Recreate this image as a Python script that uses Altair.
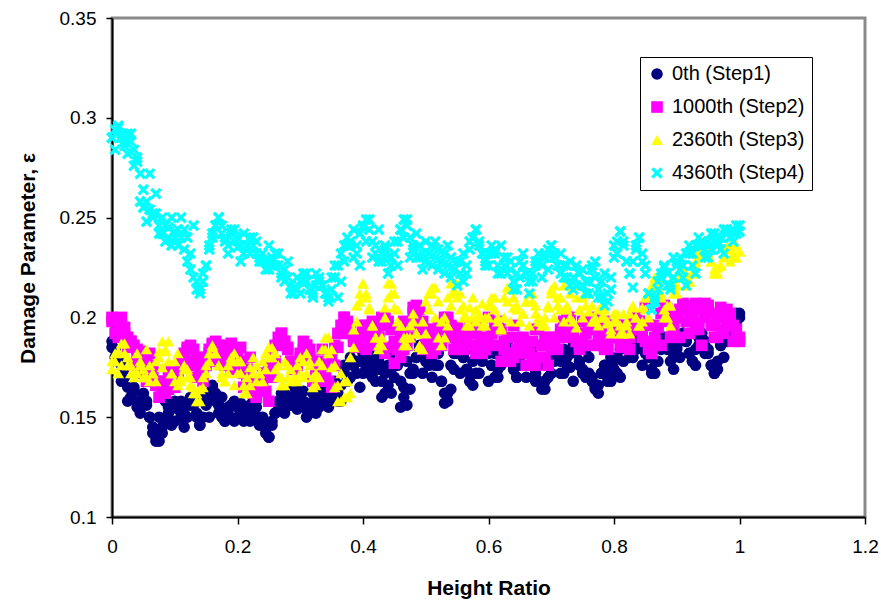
import altair as alt
import pandas as pd

# ---- x positions of the three reading sets ----
height_ratio = [
    0.000, 0.005, 0.010, 0.015, 0.020, 0.025, 0.030, 0.035, 0.040, 0.045,
    0.050, 0.055, 0.060, 0.065, 0.070, 0.075, 0.080, 0.085, 0.090, 0.095,
    0.100, 0.105, 0.110, 0.115, 0.120, 0.125, 0.130, 0.135, 0.140, 0.145,
    0.150, 0.155, 0.160, 0.165, 0.170, 0.175, 0.180, 0.185, 0.190, 0.195,
    0.200, 0.205, 0.210, 0.215, 0.220, 0.225, 0.230, 0.235, 0.240, 0.245,
    0.250, 0.255, 0.260, 0.265, 0.270, 0.275, 0.280, 0.285, 0.290, 0.295,
    0.300, 0.305, 0.310, 0.315, 0.320, 0.325, 0.330, 0.335, 0.340, 0.345,
    0.350, 0.355, 0.360, 0.365, 0.370, 0.375, 0.380, 0.385, 0.390, 0.395,
    0.400, 0.405, 0.410, 0.415, 0.420, 0.425, 0.430, 0.435, 0.440, 0.445,
    0.450, 0.455, 0.460, 0.465, 0.470, 0.475, 0.480, 0.485, 0.490, 0.495,
    0.500, 0.505, 0.510, 0.515, 0.520, 0.525, 0.530, 0.535, 0.540, 0.545,
    0.550, 0.555, 0.560, 0.565, 0.570, 0.575, 0.580, 0.585, 0.590, 0.595,
    0.600, 0.605, 0.610, 0.615, 0.620, 0.625, 0.630, 0.635, 0.640, 0.645,
    0.650, 0.655, 0.660, 0.665, 0.670, 0.675, 0.680, 0.685, 0.690, 0.695,
    0.700, 0.705, 0.710, 0.715, 0.720, 0.725, 0.730, 0.735, 0.740, 0.745,
    0.750, 0.755, 0.760, 0.765, 0.770, 0.775, 0.780, 0.785, 0.790, 0.795,
    0.800, 0.805, 0.810, 0.815, 0.820, 0.825, 0.830, 0.835, 0.840, 0.845,
    0.850, 0.855, 0.860, 0.865, 0.870, 0.875, 0.880, 0.885, 0.890, 0.895,
    0.900, 0.905, 0.910, 0.915, 0.920, 0.925, 0.930, 0.935, 0.940, 0.945,
    0.950, 0.955, 0.960, 0.965, 0.970, 0.975, 0.980, 0.985, 0.990, 0.995,
    1.000,
]

height_ratio_grid = [
    0.00, 0.01, 0.02, 0.03, 0.04, 0.05, 0.06, 0.07, 0.08, 0.09,
    0.10, 0.11, 0.12, 0.13, 0.14, 0.15, 0.16, 0.17, 0.18, 0.19,
    0.20, 0.21, 0.22, 0.23, 0.24, 0.25, 0.26, 0.27, 0.28, 0.29,
    0.30, 0.31, 0.32, 0.33, 0.34, 0.35, 0.36, 0.37, 0.38, 0.39,
    0.40, 0.41, 0.42, 0.43, 0.44, 0.45, 0.46, 0.47, 0.48, 0.49,
    0.50, 0.51, 0.52, 0.53, 0.54, 0.55, 0.56, 0.57, 0.58, 0.59,
    0.60, 0.61, 0.62, 0.63, 0.64, 0.65, 0.66, 0.67, 0.68, 0.69,
    0.70, 0.71, 0.72, 0.73, 0.74, 0.75, 0.76, 0.77, 0.78, 0.79,
    0.80, 0.81, 0.82, 0.83, 0.84, 0.85, 0.86, 0.87, 0.88, 0.89,
    0.90, 0.91, 0.92, 0.93, 0.94, 0.95, 0.96, 0.97, 0.98, 0.99,
    1.00,
]

height_ratio_mid = [
    0.005, 0.015, 0.025, 0.035, 0.045, 0.055, 0.065, 0.075, 0.085, 0.095,
    0.105, 0.115, 0.125, 0.135, 0.145, 0.155, 0.165, 0.175, 0.185, 0.195,
    0.205, 0.215, 0.225, 0.235, 0.245, 0.255, 0.265, 0.275, 0.285, 0.295,
    0.305, 0.315, 0.325, 0.335, 0.345, 0.355, 0.365, 0.375, 0.385, 0.395,
    0.405, 0.415, 0.425, 0.435, 0.445, 0.455, 0.465, 0.475, 0.485, 0.495,
    0.505, 0.515, 0.525, 0.535, 0.545, 0.555, 0.565, 0.575, 0.585, 0.595,
    0.605, 0.615, 0.625, 0.635, 0.645, 0.655, 0.665, 0.675, 0.685, 0.695,
    0.705, 0.715, 0.725, 0.735, 0.745, 0.755, 0.765, 0.775, 0.785, 0.795,
    0.805, 0.815, 0.825, 0.835, 0.845, 0.855, 0.865, 0.875, 0.885, 0.895,
    0.905, 0.915, 0.925, 0.935, 0.945, 0.955, 0.965, 0.975, 0.985, 0.995,
]

# ---- 0th (Step1) ----
step1 = [
    0.188, 0.184, 0.180, 0.176, 0.170, 0.165, 0.160, 0.163, 0.158, 0.155,
    0.160, 0.156, 0.150, 0.145, 0.140, 0.138, 0.142, 0.148, 0.152, 0.156,
    0.158, 0.154, 0.150, 0.152, 0.156, 0.160, 0.156, 0.150, 0.146, 0.150,
    0.156, 0.162, 0.166, 0.162, 0.156, 0.150, 0.148, 0.152, 0.156, 0.158,
    0.155, 0.150, 0.148, 0.152, 0.156, 0.158, 0.155, 0.150, 0.146, 0.142,
    0.140, 0.146, 0.152, 0.156, 0.158, 0.162, 0.160, 0.156, 0.160, 0.164,
    0.162, 0.158, 0.154, 0.152, 0.156, 0.160, 0.164, 0.162, 0.158, 0.162,
    0.166, 0.160, 0.158, 0.166, 0.172, 0.176, 0.180, 0.176, 0.172, 0.178,
    0.182, 0.178, 0.172, 0.176, 0.180, 0.174, 0.168, 0.162, 0.166, 0.174,
    0.180, 0.176, 0.168, 0.160, 0.156, 0.164, 0.174, 0.180, 0.184, 0.186,
    0.182, 0.176, 0.180, 0.184, 0.176, 0.168, 0.162, 0.158, 0.164, 0.174,
    0.182, 0.186, 0.180, 0.174, 0.168, 0.166, 0.172, 0.180, 0.184, 0.186,
    0.182, 0.176, 0.170, 0.174, 0.180, 0.186, 0.188, 0.182, 0.174, 0.170,
    0.176, 0.182, 0.186, 0.184, 0.178, 0.172, 0.168, 0.164, 0.168, 0.176,
    0.182, 0.186, 0.184, 0.178, 0.172, 0.176, 0.182, 0.186, 0.184, 0.178,
    0.174, 0.170, 0.172, 0.168, 0.164, 0.166, 0.172, 0.176, 0.172, 0.168,
    0.174, 0.180, 0.184, 0.188, 0.190, 0.186, 0.180, 0.184, 0.188, 0.190,
    0.186, 0.180, 0.174, 0.172, 0.178, 0.184, 0.188, 0.190, 0.186, 0.180,
    0.184, 0.190, 0.192, 0.188, 0.182, 0.178, 0.184, 0.190, 0.192, 0.188,
    0.182, 0.176, 0.172, 0.178, 0.186, 0.190, 0.188, 0.192, 0.198, 0.202,
    0.200,
]
step1_grid = [
    0.185, 0.178, 0.172, 0.160, 0.155, 0.162, 0.150, 0.138, 0.145, 0.155,
    0.148, 0.158, 0.150, 0.160, 0.146, 0.158, 0.165, 0.152, 0.148, 0.156,
    0.150, 0.155, 0.148, 0.158, 0.150, 0.140, 0.152, 0.162, 0.156, 0.165,
    0.158, 0.150, 0.162, 0.155, 0.165, 0.158, 0.162, 0.176, 0.170, 0.178,
    0.172, 0.182, 0.168, 0.160, 0.176, 0.170, 0.155, 0.178, 0.172, 0.186,
    0.178, 0.170, 0.182, 0.157, 0.176, 0.185, 0.180, 0.172, 0.186, 0.178,
    0.168, 0.182, 0.176, 0.186, 0.174, 0.180, 0.170, 0.184, 0.176, 0.164,
    0.172, 0.180, 0.184, 0.175, 0.182, 0.172, 0.180, 0.165, 0.172, 0.168,
    0.178, 0.170, 0.186, 0.180, 0.190, 0.182, 0.172, 0.186, 0.190, 0.178,
    0.185, 0.192, 0.182, 0.176, 0.190, 0.184, 0.172, 0.186, 0.192, 0.200,
    0.202,
]
step1_mid = [
    0.180, 0.168, 0.158, 0.165, 0.152, 0.158, 0.142, 0.150, 0.158, 0.146,
    0.155, 0.145, 0.156, 0.152, 0.160, 0.150, 0.158, 0.160, 0.155, 0.148,
    0.157, 0.150, 0.153, 0.146, 0.145, 0.148, 0.158, 0.152, 0.160, 0.154,
    0.163, 0.157, 0.152, 0.160, 0.155, 0.168, 0.158, 0.168, 0.176, 0.165,
    0.175, 0.170, 0.178, 0.172, 0.162, 0.180, 0.165, 0.172, 0.180, 0.172,
    0.186, 0.176, 0.168, 0.162, 0.182, 0.172, 0.184, 0.178, 0.172, 0.184,
    0.176, 0.170, 0.184, 0.178, 0.170, 0.184, 0.176, 0.168, 0.178, 0.170,
    0.178, 0.172, 0.180, 0.168, 0.176, 0.184, 0.170, 0.162, 0.176, 0.180,
    0.172, 0.178, 0.180, 0.188, 0.176, 0.185, 0.178, 0.190, 0.184, 0.174,
    0.180, 0.188, 0.178, 0.186, 0.182, 0.176, 0.174, 0.180, 0.190, 0.198,
]

# ---- 1000th (Step2) ----
step2 = [
    0.200, 0.198, 0.196, 0.195, 0.192, 0.190, 0.188, 0.186, 0.184, 0.182,
    0.180, 0.178, 0.176, 0.172, 0.168, 0.166, 0.164, 0.162, 0.164, 0.166,
    0.168, 0.172, 0.176, 0.180, 0.184, 0.186, 0.184, 0.180, 0.176, 0.172,
    0.176, 0.182, 0.186, 0.188, 0.186, 0.184, 0.182, 0.178, 0.174, 0.178,
    0.182, 0.178, 0.172, 0.168, 0.165, 0.162, 0.160, 0.164, 0.168, 0.172,
    0.176, 0.180, 0.186, 0.190, 0.192, 0.188, 0.184, 0.178, 0.174, 0.176,
    0.180, 0.184, 0.186, 0.184, 0.178, 0.172, 0.170, 0.168, 0.172, 0.176,
    0.180, 0.186, 0.192, 0.196, 0.200, 0.198, 0.194, 0.190, 0.186, 0.190,
    0.194, 0.196, 0.192, 0.188, 0.186, 0.190, 0.196, 0.200, 0.198, 0.194,
    0.188, 0.184, 0.180, 0.184, 0.190, 0.196, 0.202, 0.206, 0.204, 0.198,
    0.194, 0.190, 0.186, 0.184, 0.188, 0.194, 0.198, 0.200, 0.196, 0.190,
    0.186, 0.184, 0.186, 0.190, 0.194, 0.196, 0.192, 0.186, 0.182, 0.184,
    0.188, 0.192, 0.196, 0.198, 0.194, 0.188, 0.182, 0.178, 0.180, 0.184,
    0.188, 0.190, 0.186, 0.182, 0.178, 0.176, 0.180, 0.186, 0.190, 0.188,
    0.184, 0.186, 0.190, 0.194, 0.198, 0.200, 0.196, 0.192, 0.188, 0.186,
    0.188, 0.192, 0.196, 0.198, 0.194, 0.190, 0.186, 0.184, 0.186, 0.190,
    0.194, 0.196, 0.192, 0.188, 0.186, 0.190, 0.196, 0.200, 0.198, 0.194,
    0.188, 0.184, 0.182, 0.188, 0.196, 0.202, 0.206, 0.204, 0.200, 0.196,
    0.200, 0.204, 0.207, 0.206, 0.202, 0.198, 0.194, 0.198, 0.204, 0.207,
    0.206, 0.202, 0.196, 0.190, 0.194, 0.200, 0.204, 0.202, 0.196, 0.190,
    0.188,
]
step2_grid = [
    0.198, 0.190, 0.195, 0.188, 0.180, 0.172, 0.182, 0.166, 0.162, 0.170,
    0.165, 0.178, 0.185, 0.178, 0.175, 0.180, 0.187, 0.182, 0.176, 0.187,
    0.178, 0.165, 0.180, 0.160, 0.172, 0.158, 0.178, 0.192, 0.185, 0.174,
    0.182, 0.186, 0.168, 0.178, 0.172, 0.165, 0.185, 0.200, 0.192, 0.185,
    0.196, 0.188, 0.195, 0.200, 0.185, 0.177, 0.192, 0.186, 0.205, 0.195,
    0.188, 0.182, 0.196, 0.200, 0.190, 0.195, 0.184, 0.196, 0.182, 0.190,
    0.200, 0.186, 0.178, 0.190, 0.196, 0.182, 0.176, 0.188, 0.194, 0.180,
    0.190, 0.184, 0.196, 0.200, 0.188, 0.198, 0.186, 0.200, 0.192, 0.184,
    0.196, 0.185, 0.190, 0.200, 0.198, 0.205, 0.182, 0.195, 0.205, 0.190,
    0.200, 0.206, 0.192, 0.207, 0.186, 0.204, 0.190, 0.205, 0.196, 0.188,
    0.190,
]
step2_mid = [
    0.192, 0.200, 0.185, 0.176, 0.183, 0.168, 0.175, 0.160, 0.168, 0.175,
    0.172, 0.182, 0.176, 0.170, 0.168, 0.184, 0.178, 0.186, 0.182, 0.174,
    0.185, 0.174, 0.168, 0.165, 0.163, 0.170, 0.186, 0.188, 0.178, 0.176,
    0.188, 0.180, 0.174, 0.184, 0.168, 0.176, 0.192, 0.196, 0.188, 0.190,
    0.184, 0.198, 0.190, 0.182, 0.194, 0.184, 0.198, 0.190, 0.200, 0.184,
    0.194, 0.190, 0.186, 0.194, 0.184, 0.190, 0.192, 0.186, 0.196, 0.184,
    0.192, 0.194, 0.184, 0.182, 0.190, 0.188, 0.182, 0.194, 0.186, 0.176,
    0.186, 0.192, 0.190, 0.194, 0.184, 0.192, 0.196, 0.186, 0.198, 0.190,
    0.190, 0.196, 0.184, 0.194, 0.190, 0.196, 0.190, 0.186, 0.198, 0.195,
    0.190, 0.198, 0.202, 0.194, 0.200, 0.196, 0.200, 0.192, 0.200, 0.194,
]

# ---- 2360th (Step3) ----
step3 = [
    0.174, 0.178, 0.183, 0.187, 0.182, 0.176, 0.172, 0.170, 0.172, 0.176,
    0.174, 0.170, 0.168, 0.172, 0.178, 0.183, 0.188, 0.184, 0.178, 0.172,
    0.168, 0.166, 0.170, 0.174, 0.170, 0.166, 0.162, 0.158, 0.164, 0.170,
    0.176, 0.182, 0.186, 0.182, 0.176, 0.170, 0.168, 0.172, 0.178, 0.182,
    0.178, 0.172, 0.166, 0.162, 0.166, 0.172, 0.176, 0.172, 0.168, 0.174,
    0.180, 0.185, 0.182, 0.176, 0.170, 0.166, 0.170, 0.174, 0.170, 0.168,
    0.172, 0.178, 0.182, 0.176, 0.170, 0.166, 0.170, 0.176, 0.184, 0.190,
    0.184, 0.176, 0.166, 0.158, 0.160, 0.168, 0.180, 0.194, 0.206, 0.212,
    0.217, 0.212, 0.204, 0.196, 0.190, 0.186, 0.190, 0.200, 0.210, 0.217,
    0.212, 0.204, 0.196, 0.190, 0.186, 0.190, 0.198, 0.192, 0.186, 0.184,
    0.192, 0.204, 0.212, 0.215, 0.208, 0.198, 0.190, 0.196, 0.206, 0.214,
    0.217, 0.212, 0.206, 0.200, 0.196, 0.200, 0.204, 0.200, 0.196, 0.200,
    0.206, 0.210, 0.204, 0.198, 0.194, 0.200, 0.208, 0.214, 0.210, 0.204,
    0.198, 0.202, 0.208, 0.212, 0.208, 0.202, 0.198, 0.196, 0.200, 0.206,
    0.212, 0.216, 0.210, 0.204, 0.198, 0.204, 0.212, 0.216, 0.210, 0.204,
    0.200, 0.206, 0.212, 0.206, 0.200, 0.196, 0.200, 0.204, 0.198, 0.194,
    0.198, 0.202, 0.196, 0.192, 0.196, 0.202, 0.206, 0.200, 0.196, 0.198,
    0.204, 0.210, 0.216, 0.220, 0.216, 0.210, 0.204, 0.200, 0.206, 0.212,
    0.216, 0.220, 0.224, 0.222, 0.218, 0.222, 0.228, 0.232, 0.236, 0.238,
    0.234, 0.228, 0.224, 0.222, 0.226, 0.230, 0.234, 0.236, 0.232, 0.230,
    0.233,
]
step3_grid = [
    0.178, 0.172, 0.187, 0.176, 0.182, 0.170, 0.176, 0.168, 0.175, 0.188,
    0.178, 0.168, 0.174, 0.165, 0.158, 0.172, 0.185, 0.176, 0.168, 0.180,
    0.172, 0.162, 0.175, 0.168, 0.178, 0.185, 0.174, 0.166, 0.176, 0.170,
    0.180, 0.172, 0.165, 0.178, 0.190, 0.175, 0.158, 0.168, 0.162, 0.198,
    0.217, 0.205, 0.190, 0.186, 0.217, 0.205, 0.196, 0.190, 0.202, 0.185,
    0.208, 0.215, 0.190, 0.200, 0.217, 0.210, 0.200, 0.205, 0.198, 0.207,
    0.200, 0.210, 0.195, 0.215, 0.205, 0.198, 0.208, 0.212, 0.200, 0.196,
    0.214, 0.206, 0.216, 0.200, 0.195, 0.210, 0.203, 0.198, 0.206, 0.197,
    0.202, 0.192, 0.198, 0.205, 0.196, 0.210, 0.215, 0.220, 0.200, 0.196,
    0.212, 0.222, 0.218, 0.226, 0.238, 0.232, 0.222, 0.226, 0.236, 0.230,
    0.233,
]
step3_mid = [
    0.182, 0.176, 0.180, 0.172, 0.178, 0.184, 0.172, 0.180, 0.183, 0.172,
    0.182, 0.176, 0.170, 0.162, 0.165, 0.178, 0.182, 0.172, 0.176, 0.166,
    0.178, 0.170, 0.180, 0.172, 0.182, 0.180, 0.170, 0.178, 0.168, 0.176,
    0.170, 0.178, 0.172, 0.184, 0.182, 0.165, 0.172, 0.160, 0.185, 0.208,
    0.210, 0.196, 0.184, 0.205, 0.212, 0.198, 0.186, 0.196, 0.192, 0.198,
    0.212, 0.200, 0.186, 0.210, 0.212, 0.204, 0.196, 0.210, 0.202, 0.196,
    0.206, 0.200, 0.210, 0.198, 0.206, 0.202, 0.196, 0.206, 0.198, 0.205,
    0.200, 0.210, 0.206, 0.198, 0.204, 0.212, 0.198, 0.204, 0.200, 0.192,
    0.198, 0.202, 0.192, 0.200, 0.205, 0.200, 0.208, 0.212, 0.206, 0.215,
    0.220, 0.216, 0.222, 0.230, 0.236, 0.228, 0.225, 0.232, 0.228, 0.236,
]

# ---- 4360th (Step4) ----
step4 = [
    0.290, 0.294, 0.296, 0.292, 0.288, 0.292, 0.288, 0.284, 0.278, 0.272,
    0.264, 0.258, 0.254, 0.250, 0.252, 0.246, 0.242, 0.246, 0.240, 0.236,
    0.240, 0.244, 0.240, 0.234, 0.228, 0.224, 0.220, 0.214, 0.212, 0.218,
    0.226, 0.234, 0.240, 0.246, 0.250, 0.246, 0.240, 0.236, 0.242, 0.244,
    0.240, 0.236, 0.232, 0.236, 0.240, 0.236, 0.232, 0.228, 0.232, 0.228,
    0.224, 0.228, 0.232, 0.226, 0.222, 0.218, 0.220, 0.216, 0.212, 0.214,
    0.218, 0.222, 0.218, 0.214, 0.212, 0.216, 0.220, 0.216, 0.212, 0.210,
    0.214, 0.220, 0.226, 0.232, 0.236, 0.240, 0.236, 0.230, 0.236, 0.242,
    0.246, 0.249, 0.244, 0.238, 0.232, 0.228, 0.232, 0.236, 0.230, 0.226,
    0.232, 0.238, 0.244, 0.249, 0.246, 0.240, 0.234, 0.230, 0.236, 0.232,
    0.228, 0.232, 0.236, 0.230, 0.224, 0.228, 0.232, 0.226, 0.220, 0.224,
    0.228, 0.222, 0.218, 0.226, 0.234, 0.240, 0.244, 0.238, 0.232, 0.228,
    0.232, 0.236, 0.232, 0.226, 0.222, 0.226, 0.230, 0.224, 0.218, 0.214,
    0.220, 0.226, 0.222, 0.218, 0.222, 0.228, 0.232, 0.226, 0.230, 0.234,
    0.236, 0.232, 0.226, 0.222, 0.226, 0.220, 0.216, 0.220, 0.226, 0.222,
    0.216, 0.212, 0.218, 0.224, 0.220, 0.214, 0.210, 0.206, 0.212, 0.220,
    0.230, 0.238, 0.243, 0.236, 0.228, 0.222, 0.228, 0.236, 0.240, 0.232,
    0.222, 0.212, 0.204, 0.208, 0.214, 0.220, 0.226, 0.222, 0.216, 0.220,
    0.226, 0.230, 0.226, 0.232, 0.236, 0.232, 0.236, 0.240, 0.236, 0.234,
    0.238, 0.242, 0.238, 0.236, 0.240, 0.244, 0.242, 0.240, 0.244, 0.246,
    0.243,
]
step4_grid = [
    0.290, 0.295, 0.286, 0.292, 0.280, 0.255, 0.272, 0.262, 0.250, 0.245,
    0.243, 0.250, 0.240, 0.246, 0.214, 0.226, 0.242, 0.250, 0.238, 0.244,
    0.235, 0.242, 0.232, 0.238, 0.228, 0.236, 0.226, 0.220, 0.228, 0.215,
    0.212, 0.222, 0.210, 0.218, 0.212, 0.220, 0.210, 0.228, 0.238, 0.232,
    0.245, 0.249, 0.236, 0.228, 0.222, 0.238, 0.244, 0.249, 0.236, 0.230,
    0.238, 0.226, 0.234, 0.222, 0.230, 0.216, 0.232, 0.238, 0.244, 0.232,
    0.226, 0.234, 0.236, 0.222, 0.214, 0.228, 0.222, 0.218, 0.228, 0.232,
    0.236, 0.226, 0.220, 0.228, 0.216, 0.224, 0.212, 0.228, 0.218, 0.208,
    0.236, 0.243, 0.228, 0.215, 0.240, 0.226, 0.204, 0.218, 0.225, 0.214,
    0.228, 0.220, 0.232, 0.222, 0.238, 0.230, 0.242, 0.234, 0.244, 0.238,
    0.246,
]
step4_mid = [
    0.284, 0.290, 0.282, 0.276, 0.258, 0.248, 0.252, 0.242, 0.238, 0.250,
    0.236, 0.244, 0.232, 0.218, 0.222, 0.236, 0.246, 0.242, 0.232, 0.238,
    0.228, 0.236, 0.240, 0.230, 0.224, 0.230, 0.232, 0.224, 0.212, 0.220,
    0.218, 0.214, 0.222, 0.216, 0.208, 0.226, 0.218, 0.236, 0.244, 0.226,
    0.238, 0.230, 0.244, 0.234, 0.230, 0.226, 0.240, 0.230, 0.242, 0.224,
    0.232, 0.238, 0.228, 0.236, 0.224, 0.228, 0.222, 0.240, 0.236, 0.226,
    0.232, 0.222, 0.230, 0.228, 0.222, 0.232, 0.212, 0.226, 0.220, 0.224,
    0.230, 0.232, 0.226, 0.214, 0.222, 0.218, 0.226, 0.210, 0.222, 0.214,
    0.232, 0.238, 0.222, 0.234, 0.228, 0.212, 0.210, 0.222, 0.216, 0.230,
    0.224, 0.216, 0.226, 0.236, 0.230, 0.234, 0.238, 0.232, 0.240, 0.242,
]

series_names = ["0th (Step1)", "1000th (Step2)", "2360th (Step3)", "4360th (Step4)"]
series_colors = ["#000080", "#FF00FF", "#FFFF00", "#00FFFF"]
X_PATH = ("M-1,-0.6L-0.6,-1L0,-0.4L0.6,-1L1,-0.6L0.4,0L1,0.6L0.6,1"
          "L0,0.4L-0.6,1L-1,0.6L-0.4,0Z")
series_shapes = ["circle", "square", "triangle-up", X_PATH]
series_sizes = [135, 135, 190, 150]

x_ticks = [0, 0.2, 0.4, 0.6, 0.8, 1.0, 1.2]
y_ticks = [0.1, 0.15, 0.2, 0.25, 0.3, 0.35]

series_data = [
    (step1, step1_grid, step1_mid),
    (step2, step2_grid, step2_mid),
    (step3, step3_grid, step3_mid),
    (step4, step4_grid, step4_mid),
]

rows = []
for name, (vals, vals_grid, vals_mid) in zip(series_names, series_data):
    for xs, ys in ((height_ratio, vals), (height_ratio_grid, vals_grid),
                   (height_ratio_mid, vals_mid)):
        for xv, yv in zip(xs, ys):
            rows.append({"series": name, "x": xv, "y": yv})
df = pd.DataFrame(rows)

FONT = "Liberation Sans, Arial, Helvetica, sans-serif"

legend_common = dict(
    title=None,
    orient="none",
    legendX=528,
    legendY=39,
    strokeColor="black",
    fillColor="white",
    padding=7,
    rowPadding=13,
    labelFontSize=20,
    labelFont=FONT,
    labelColor="black",
    symbolSize=130,
    symbolStrokeWidth=0,
    symbolOpacity=1,
    labelOffset=5,
)

chart = alt.Chart(df).mark_point(filled=True, opacity=1).encode(
    x=alt.X("x:Q",
            scale=alt.Scale(domain=[0, 1.2], nice=False, zero=False),
            axis=alt.Axis(values=x_ticks, format="~g", title="Height Ratio",
                          titleFontSize=21, titleFont=FONT, titleFontWeight="bold",
                          titleColor="black", titleY=77, titleBaseline="alphabetic",
                          labelFontSize=19, labelFont=FONT, labelColor="black",
                          labelPadding=13, tickSize=7, tickColor="black",
                          tickWidth=1.5, domainColor="black", domainWidth=2,
                          grid=False, labelFlush=False)),
    y=alt.Y("y:Q",
            scale=alt.Scale(domain=[0.1, 0.35], nice=False, zero=False),
            axis=alt.Axis(values=y_ticks, format="~g", title="Damage Parameter, ε",
                          titleFontSize=21, titleFont=FONT, titleFontWeight="bold",
                          titleColor="black", titleX=-84, titleY=240,
                          titleBaseline="middle", titleAngle=270,
                          labelFontSize=19, labelFont=FONT, labelColor="black",
                          labelPadding=10, tickSize=6, tickColor="black",
                          tickWidth=1.5, domainColor="black", domainWidth=2,
                          grid=False, labelFlush=False)),
    color=alt.Color("series:N",
                    scale=alt.Scale(domain=series_names, range=series_colors),
                    legend=alt.Legend(**legend_common)),
    shape=alt.Shape("series:N",
                    scale=alt.Scale(domain=series_names, range=series_shapes),
                    legend=alt.Legend(**legend_common)),
    size=alt.Size("series:N",
                  scale=alt.Scale(domain=series_names, range=series_sizes),
                  legend=None),
).properties(
    width=753,
    height=499,
    autosize="none",
    padding={"left": 112, "top": 18, "right": 16, "bottom": 86},
    background="white",
).configure_view(
    stroke="#8a8a8a",
    strokeWidth=3,
)

chart.save("out.html", embed_options={"renderer": "svg", "actions": False})
